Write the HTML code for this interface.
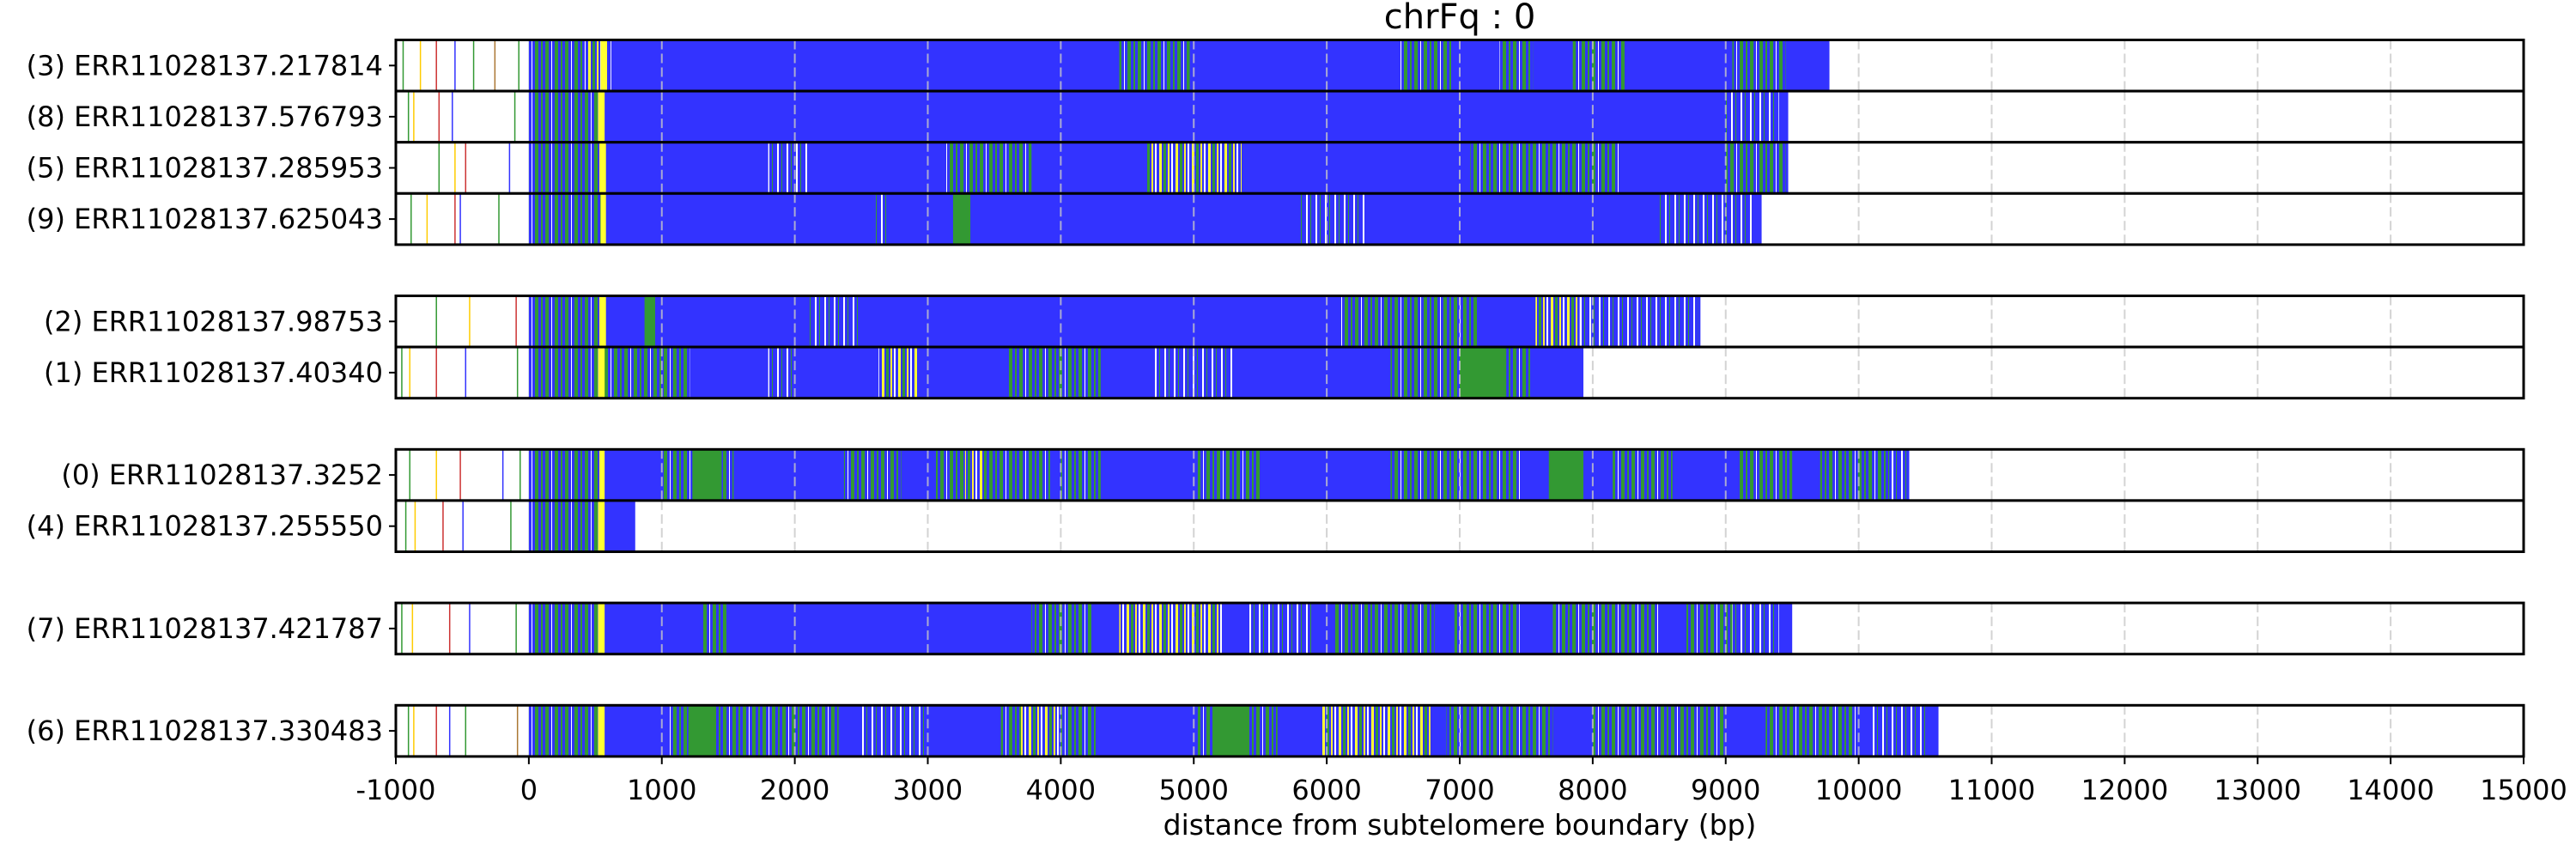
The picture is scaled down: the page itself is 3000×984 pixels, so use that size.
<!DOCTYPE html>
<html><head><meta charset="utf-8"><style>
html,body{margin:0;padding:0;background:#fff;}
svg text{font-family:"DejaVu Sans","Liberation Sans",sans-serif;fill:#000;}
</style></head><body>
<svg id="chart" width="3000" height="979" xmlns="http://www.w3.org/2000/svg">
<defs>
<pattern id="gm" width="23" height="10" patternUnits="userSpaceOnUse">
<rect width="23" height="10" fill="#3333ff"/><rect x="2" width="4" height="10" fill="#339933"/><rect x="9" width="2" height="10" fill="#339933"/><rect x="14" width="4" height="10" fill="#339933"/><rect x="21" width="1" height="10" fill="#ffffff"/>
</pattern>
<pattern id="ym" width="19" height="10" patternUnits="userSpaceOnUse">
<rect width="19" height="10" fill="#3333ff"/><rect x="1" width="3" height="10" fill="#ffff33"/><rect x="6" width="3" height="10" fill="#339933"/><rect x="11" width="2" height="10" fill="#ffee33"/><rect x="15" width="2" height="10" fill="#ffffff"/>
</pattern>
<pattern id="bm" width="11" height="10" patternUnits="userSpaceOnUse">
<rect width="11" height="10" fill="#3333ff"/><rect x="3" width="2" height="10" fill="#ffffff"/><rect x="8" width="1" height="10" fill="#339933"/>
</pattern>
</defs>
<g id="plot"></g>
</svg>
<script>
const labels = ["(3) ERR11028137.217814","(8) ERR11028137.576793","(5) ERR11028137.285953","(9) ERR11028137.625043","(2) ERR11028137.98753","(1) ERR11028137.40340","(0) ERR11028137.3252","(4) ERR11028137.255550","(7) ERR11028137.421787","(6) ERR11028137.330483"];
const slots = [0,1,2,3,5,6,8,9,11,13];
const readEnds = [9780,9470,9470,9270,8810,7930,10380,800,9500,10600];
const segments = [
 [[0,620,"gm"],[420,600,"ym"],[540,580,"y"],[4440,4970,"gm"],[6550,6950,"gm"],[7300,7550,"gm"],[7850,8250,"gm"],[9050,9450,"gm"]],
 [[0,550,"gm"],[520,570,"y"],[9000,9400,"bm"]],
 [[0,550,"gm"],[530,580,"y"],[1800,2100,"bm"],[3120,3780,"gm"],[4640,5360,"ym"],[7080,8200,"gm"],[9000,9450,"gm"]],
 [[0,550,"gm"],[540,580,"y"],[3190,3320,"g"],[2600,2700,"bm"],[5800,6300,"bm"],[8500,9200,"bm"]],
 [[0,550,"gm"],[530,580,"y"],[870,950,"g"],[2100,2500,"bm"],[6090,7140,"gm"],[7570,7900,"ym"],[7900,8790,"bm"]],
 [[0,1210,"gm"],[520,570,"y"],[1800,2000,"bm"],[2630,2920,"ym"],[3600,4300,"gm"],[4700,5300,"bm"],[6480,7540,"gm"],[7000,7350,"g"]],
 [[0,550,"gm"],[530,570,"y"],[1010,1540,"gm"],[1230,1450,"g"],[2370,2800,"gm"],[3060,3920,"gm"],[3280,3450,"ym"],[4000,4300,"gm"],[5030,5500,"gm"],[6480,7470,"gm"],[7670,7930,"g"],[8150,8600,"gm"],[9100,9500,"gm"],[9710,10230,"gm"],[10230,10380,"bm"]],
 [[0,520,"gm"],[520,570,"y"]],
 [[0,520,"gm"],[520,570,"y"],[1300,1500,"gm"],[3780,4240,"gm"],[4440,5230,"ym"],[5400,5900,"bm"],[6060,6810,"gm"],[6960,7450,"gm"],[7700,8500,"gm"],[8700,9050,"gm"],[9050,9400,"bm"]],
 [[0,520,"gm"],[520,570,"y"],[1050,2330,"gm"],[1200,1400,"g"],[2500,3000,"bm"],[3550,4280,"gm"],[3700,4000,"ym"],[5030,5630,"gm"],[5150,5400,"g"],[5960,6780,"ym"],[6900,7700,"gm"],[8000,9000,"gm"],[9300,9984,"gm"],[10100,10500,"bm"]]
];
const leftLines = [[-950,-820,-700,-560,-420,-260,-80],[-910,-870,-680,-580,-110],[-680,-560,-480,-150],[-890,-770,-560,-520,-230],[-700,-450,-100],[-960,-900,-700,-480,-90],[-900,-700,-520,-200,-70],[-930,-860,-650,-500,-140],[-960,-880,-600,-450,-100],[-910,-870,-700,-600,-480,-90]];
const leftColors = ["#339933","#ffcc00","#cc3333","#3333ff","#339933","#aa7733","#339933"];
const xTicks = [-1000,0,1000,2000,3000,4000,5000,6000,7000,8000,9000,10000,11000,12000,13000,14000,15000];

const X0=461, X1=2939, XMIN=-1000, XMAX=15000;
const x = v => X0 + (v - XMIN) / (XMAX - XMIN) * (X1 - X0);
const TOP=46.5, SLOT=59.6;
const y = s => TOP + s*SLOT;
const NS="http://www.w3.org/2000/svg";
const plot=document.getElementById('plot');
function mk(tag, attrs){const e=document.createElementNS(NS,tag);for(const k in attrs)e.setAttribute(k,attrs[k]);plot.appendChild(e);return e;}
const fills={g:"#339933",y:"#ffff33",gm:"url(#gm)",ym:"url(#ym)",bm:"url(#bm)"};

labels.forEach((lab,i)=>{
  const top=y(slots[i]);
  const row=mk('rect',{x:X0,y:top,width:X1-X0,height:SLOT,fill:'#fff'});
  
  
  leftLines[i].forEach((v,j)=>{
    const l=mk('rect',{x:x(v),y:top,width:1.5,height:SLOT,fill:leftColors[j%leftColors.length]});
    
    
  });
  const b=mk('rect',{x:x(0),y:top,width:x(readEnds[i])-x(0),height:SLOT,fill:'#3333ff'});
  
  
  segments[i].forEach(sg=>{
    const e=Math.min(sg[1],readEnds[i]);
    const r=mk('rect',{x:x(sg[0]),y:top,width:Math.max(1,x(e)-x(sg[0])),height:SLOT,fill:fills[sg[2]]});
    
    
  });
  xTicks.forEach(t=>{
    if(t<=0)return;
    const g=mk('line',{x1:x(t),x2:x(t),y1:top,y2:top+SLOT,stroke:'#c8c8c8','stroke-width':2,'stroke-dasharray':'11,5','stroke-opacity':0.8});
    
    
  });
  const f=mk('rect',{x:X0,y:top,width:X1-X0,height:SLOT,fill:'none',stroke:'#000','stroke-width':3});
  
  
  const tk=mk('line',{x1:X0-8,x2:X0,y1:top+SLOT/2,y2:top+SLOT/2,stroke:'#000','stroke-width':2});
  
  
  const t=mk('text',{x:X0-15,y:top+SLOT/2+11,'text-anchor':'end','font-size':32});
  t.textContent=lab;
  
  
});
const bottom=y(13)+SLOT;
xTicks.forEach(t=>{
  const l=mk('line',{x1:x(t),x2:x(t),y1:bottom,y2:bottom+9,stroke:'#000','stroke-width':2});
  
  
  const tx=mk('text',{x:x(t),y:bottom+50,'text-anchor':'middle','font-size':32});
  tx.textContent=String(t);
  
  
});
const xl=mk('text',{x:(X0+X1)/2,y:972,'text-anchor':'middle','font-size':33});
xl.textContent='distance from subtelomere boundary (bp)';


const ti=mk('text',{x:(X0+X1)/2,y:33,'text-anchor':'middle','font-size':40});
ti.textContent='chrFq : 0';


</script>
</body></html>
